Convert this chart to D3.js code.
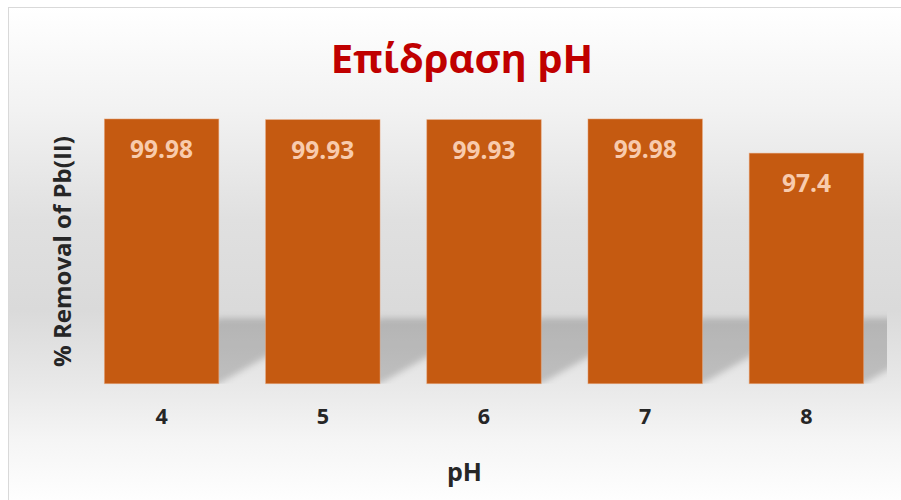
<!DOCTYPE html>
<html>
<head>
<meta charset="utf-8">
<script src="https://cdn.jsdelivr.net/npm/d3@7"></script>
<style>
  html, body { margin: 0; padding: 0; background: #ffffff; }
  svg { display: block; }
  text { font-family: "Open Sans", "Noto Sans", sans-serif; font-weight: 700; }
</style>
</head>
<body>
<svg id="chart" width="901" height="500"></svg>
<script>
// pH effect on lead removal
const categories = ["4", "5", "6", "7", "8"];
const removal = [99.98, 99.93, 99.93, 99.98, 97.4];
const chartTitle = "Επίδραση pH";
const xTitle = "pH";
const yTitle = "% Removal of Pb(II)";
const yDomain = [80, 100];

const svg = d3.select("#chart");
const plot = { left: 81, right: 887, top: 118.7, bottom: 383.7 };

const defs = svg.append("defs");

// chart background: soft grey wash, darkest around the bar bases
const bg = defs.append("linearGradient")
  .attr("id", "bgGrad").attr("gradientUnits", "userSpaceOnUse")
  .attr("x1", 0).attr("y1", 7).attr("x2", 0).attr("y2", 500);
[[7, "#ffffff"], [110, "#f2f2f2"], [220, "#e0e0e0"], [310, "#dadada"],
 [383, "#e8e8e8"], [440, "#f5f5f5"], [500, "#fefefe"]].forEach(([y, c]) => {
  bg.append("stop").attr("offset", (y - 7) / 493).attr("stop-color", c);
});

const blur = defs.append("filter").attr("id", "soft")
  .attr("x", "-20%").attr("y", "-40%").attr("width", "140%").attr("height", "180%");
blur.append("feGaussianBlur").attr("stdDeviation", 3);

defs.append("clipPath").attr("id", "plotClip")
  .append("rect")
  .attr("x", plot.left).attr("y", 0)
  .attr("width", plot.right - plot.left).attr("height", plot.bottom);

svg.append("rect")
  .attr("x", 8.5).attr("y", 7.5)
  .attr("width", 920).attr("height", 520)
  .attr("fill", "url(#bgGrad)")
  .attr("stroke", "#d9d9d9").attr("stroke-width", 1);

const x = d3.scaleBand()
  .domain(categories)
  .range([plot.left, plot.right])
  .paddingInner(0.29)
  .paddingOuter(0.145);

const y = d3.scaleLinear()
  .domain(yDomain)
  .range([plot.bottom, plot.top]);

const rows = categories.map((c, i) => ({ cat: c, val: removal[i] }));

// perspective shadows cast back from the bar bases
const shadowTop = 318;
const skew = 1.75;
svg.append("g")
  .attr("clip-path", "url(#plotClip)")
  .append("g")
  .attr("filter", "url(#soft)")
  .selectAll("path")
  .data(rows)
  .join("path")
  .attr("d", d => {
    const x0 = x(d.cat), x1 = x(d.cat) + x.bandwidth();
    const b = y(yDomain[0]);
    const dx = (b - shadowTop) * skew;
    return `M${x0},${b}L${x1},${b}L${x1 + dx},${shadowTop}L${x0 + dx},${shadowTop}Z`;
  })
  .attr("fill", "#000")
  .attr("fill-opacity", 0.18);

// bars
svg.append("g")
  .selectAll("rect")
  .data(rows)
  .join("rect")
  .attr("x", d => x(d.cat))
  .attr("y", d => y(d.val))
  .attr("width", x.bandwidth())
  .attr("height", d => y(yDomain[0]) - y(d.val))
  .attr("fill", "#c55a11")
  .attr("stroke", "#e9a77c")
  .attr("stroke-opacity", 0.6)
  .attr("stroke-width", 0.8);

// value labels inside the bar tops
svg.append("g")
  .selectAll("text")
  .data(rows)
  .join("text")
  .attr("x", d => x(d.cat) + x.bandwidth() / 2)
  .attr("y", d => y(d.val) + 39)
  .attr("text-anchor", "middle")
  .attr("font-size", 24.5)
  .attr("fill", "#f8cbad")
  .text(d => d.val);

// category axis (labels only)
const xAxis = svg.append("g")
  .attr("transform", `translate(0,${plot.bottom})`)
  .call(d3.axisBottom(x).tickSize(0).tickPadding(0));
xAxis.select(".domain").remove();
xAxis.attr("font-family", null).attr("font-size", null);
xAxis.selectAll("text")
  .attr("dy", null)
  .attr("y", 40.5)
  .style("font-size", "21.5px")
  .attr("fill", "#262626");

// titles
svg.append("text")
  .attr("x", 462).attr("y", 72.5)
  .attr("text-anchor", "middle")
  .attr("font-size", 40)
  .attr("fill", "#c00000")
  .text(chartTitle);

svg.append("text")
  .attr("x", 464.5).attr("y", 480.5)
  .attr("text-anchor", "middle")
  .attr("font-size", 25)
  .attr("fill", "#262626")
  .text(xTitle);

svg.append("text")
  .attr("transform", "translate(70.5,251.5) rotate(-90)")
  .attr("text-anchor", "middle")
  .attr("font-size", 24)
  .attr("fill", "#262626")
  .text(yTitle);
</script>
</body>
</html>
